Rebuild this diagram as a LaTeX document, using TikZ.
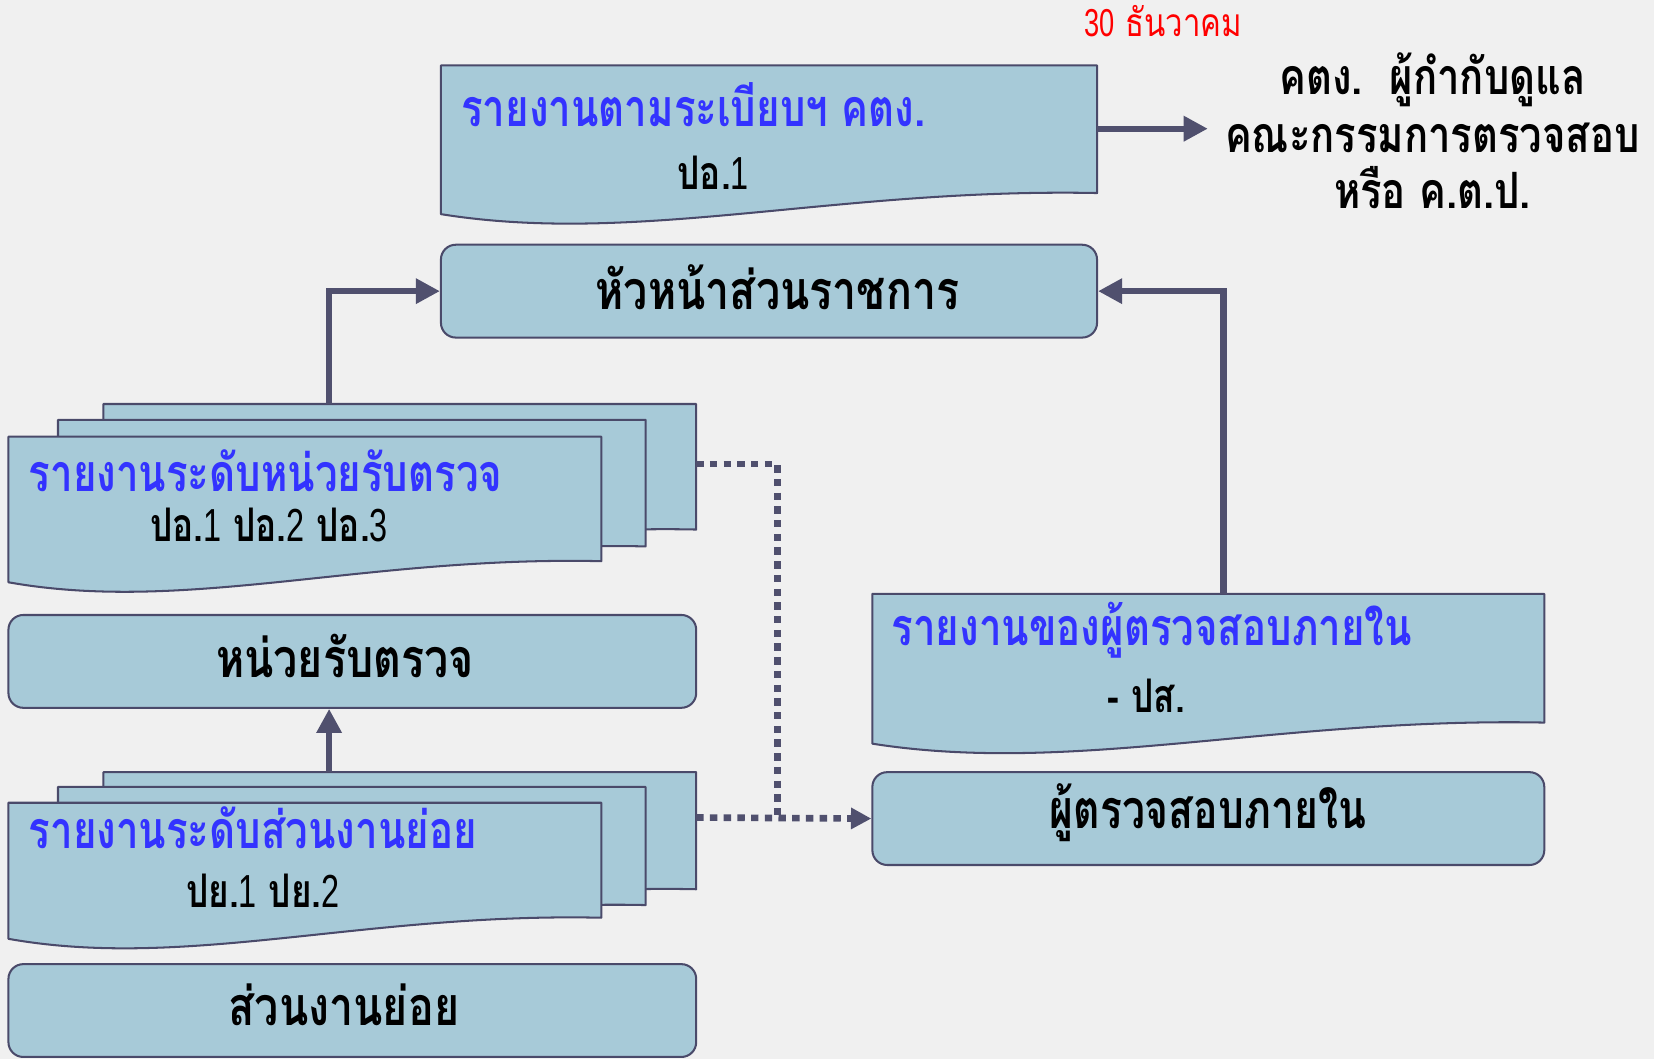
\documentclass[tikz,border=0pt]{standalone}
\usepackage{fontspec}
\usetikzlibrary{arrows.meta,fit}
\newfontfamily\thaifont[Script=Thai,FakeStretch=0.8]{Loma}
\newfontfamily\thaiblue[Script=Thai,FakeStretch=0.775]{Loma}
\newfontfamily\thaisub[Script=Thai,FakeStretch=0.76]{Loma}
\newfontfamily\digfont[FakeStretch=0.7]{Liberation Sans}
\newcommand\dgt[1]{{\digfont\mdseries #1}}
\definecolor{bgc}{HTML}{F0F0F0}
\definecolor{boxc}{HTML}{A7CAD8}
\definecolor{edgec}{HTML}{4A4A6A}
\definecolor{arrc}{HTML}{50506E}
\definecolor{bluet}{HTML}{3333FF}
\newcommand\docsheet[4]{%
  \path[docf] (#1,#2) -- (#3,#2) -- (#3,{#4-20})
    .. controls ({#1+0.6*(#3-#1)},{#4-25}) and ({#1+0.3*(#3-#1)},{#4+30}) .. (#1,#4) -- cycle;}
\tikzset{
  docf/.style={fill=boxc,draw=edgec,line width=1.1pt,line join=round},
  rbox/.style={fill=boxc,draw=edgec,line width=1.1pt,rounded corners=8pt,inner sep=0pt},
  conn/.style={draw=arrc,line width=3.4pt,-{Triangle[length=13pt,width=13pt]}},
  dotc/.style={draw=arrc,line width=3.6pt,dash pattern=on 4pt off 3.4pt},
  dotarr/.style={dotc,-{Triangle[length=11pt,width=11pt]}},
  bigt/.style={inner sep=0pt,font=\thaifont\bfseries\fontsize{29}{32}\selectfont},
  bluettl/.style={inner sep=0pt,text=bluet,text depth=1pt,font=\thaiblue\bfseries\fontsize{28}{32}\selectfont},
  subt/.style={inner sep=0pt,text height=0.72em,font=\thaisub\bfseries\fontsize{25}{30}\selectfont},
  rtxt/.style={inner sep=0pt,font=\thaifont\bfseries\fontsize{27}{30}\selectfont},
  redt/.style={inner sep=0pt,text=red,font=\thaifont\fontsize{21}{24}\selectfont},
}
\begin{document}
\begin{tikzpicture}[x=0.02cm,y=-0.02cm]
\useasboundingbox (0,0) rectangle (1568,1004);
\fill[bgc] (0,0) rectangle (1568,1004);

% top document
\docsheet{418}{62}{1040}{203}
\node[bluettl,anchor=base west] (t1) at (437,120) {รายงานตามระเบียบฯ คตง.};
\node[subt,anchor=base west] (t1s) at (642,180) {ปอ.\dgt{1}};
\coordinate (topr) at (1040,122);

% right texts
\node[redt,anchor=base west] (date) at (1028,35) {\dgt{30} ธันวาคม};
\node[rtxt,anchor=base] (k1) at (1358,90) {คตง.\ \ ผู้กำกับดูแล};
\node[rtxt,anchor=base] (k2) at (1358,145) {คณะกรรมการตรวจสอบ};
\node[rtxt,anchor=base] (k3) at (1358,198) {หรือ ค.ต.ป.};
\coordinate (ktip) at (1145,122);

% head box
\node[rbox,fit={(418,232) (1040,320)}] (hu) {};
\node[bigt,anchor=base] (hut) at (737,293) {หัวหน้าส่วนราชการ};

% stack 1
\docsheet{98}{383}{660}{522}
\docsheet{55}{398}{612}{538}
\docsheet{8}{414}{570}{552}
\node[bluettl,anchor=base west] (s1t) at (27,466) {รายงานระดับหน่วยรับตรวจ};
\node[subt,anchor=base west] (s1s) at (142,513) {ปอ.\dgt{1} ปอ.\dgt{2} ปอ.\dgt{3}};
\coordinate (s1top) at (312,383);
\coordinate (s1r) at (660,440);

% unit box
\node[rbox,fit={(8,583) (660,671)}] (hn) {};
\node[bigt,anchor=base] (hnt) at (327,642) {หน่วยรับตรวจ};

% stack 2
\docsheet{98}{732}{660}{863}
\docsheet{55}{746}{612}{878}
\docsheet{8}{761}{570}{890}
\node[bluettl,anchor=base west] (s2t) at (27,804) {รายงานระดับส่วนงานย่อย};
\node[subt,anchor=base west] (s2s) at (176,860) {ปย.\dgt{1} ปย.\dgt{2}};
\coordinate (s2top) at (312,732);
\coordinate (s2r) at (660,775);
\coordinate (dcorner) at (737,440);
\coordinate (dmeet) at (737,775);

% sub unit box
\node[rbox,fit={(8,914) (660,1002)}] (sn) {};
\node[bigt,anchor=base] (snt) at (326,972) {ส่วนงานย่อย};

% right document
\docsheet{827}{563}{1464}{705}
\node[bluettl,anchor=base west] (rt) at (845,612) {รายงานของผู้ตรวจสอบภายใน};
\node[subt,anchor=base west] (rts) at (1050,675) {- ปส.};
\coordinate (rtop) at (1160,563);

% internal auditor box
\node[rbox,fit={(827,732) (1464,820)}] (pt) {};
\node[bigt,anchor=base,font=\thaisub\bfseries\fontsize{29}{32}\selectfont] (ptt) at (1145,785) {ผู้ตรวจสอบภายใน};

% connectors
\draw[conn] (topr) -- (ktip);
\draw[conn] (s1top) |- (hu.west);
\draw[conn] (rtop) |- (hu.east);
\draw[conn] (s2top) -- (hn.south -| s2top);
\draw[dotc] (s1r) -- (dcorner) -- (dmeet);
\draw[dotarr] (s2r) -- (pt.west);
\end{tikzpicture}
\end{document}
